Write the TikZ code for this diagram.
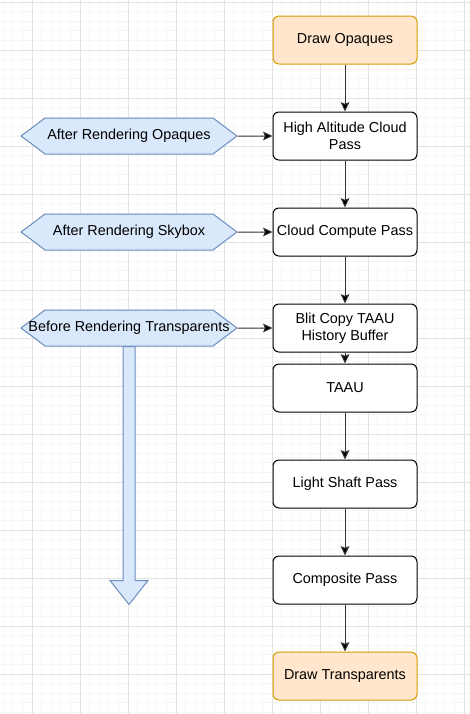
\documentclass[tikz,border=0pt]{standalone}
\usepackage{fontspec}
\setmainfont{Liberation Sans}
\usepackage{tikz}
\usetikzlibrary{arrows.meta,shapes.symbols}

\definecolor{gridmajor}{HTML}{E2E2E2}
\definecolor{gridminor}{HTML}{F5F5F5}
\definecolor{hookfill}{HTML}{DAE8FC}
\definecolor{hookline}{HTML}{6C8EBF}
\definecolor{drawfill}{HTML}{FFE6CC}
\definecolor{drawline}{HTML}{D79B00}
\definecolor{edgeline}{HTML}{333333}

\begin{document}
\begin{tikzpicture}[x=0.75pt,y=-0.75pt,>={Stealth[length=7pt,width=6.5pt,inset=1.2pt]},
  node distance=72pt,font=\fontsize{10.8}{13}\selectfont,
  pass node/.style={rectangle,rounded corners=4.5pt,draw=black,fill=white,line width=0.75pt,
    minimum width=108pt,minimum height=36pt,align=center,inner sep=1pt},
  draw node/.style={pass node,draw=drawline,fill=drawfill},
  hook node/.style={signal,signal to=east and west,signal pointer angle=73.7,draw=hookline,
    fill=hookfill,line width=0.75pt,minimum width=162pt,minimum height=27pt,inner sep=1pt},
  flow/.style={->,draw=edgeline,line width=0.75pt}]
  % background grid
  \useasboundingbox (0,0) rectangle (470,714);
  \fill[white] (0,0) rectangle (470,714);
  \foreach \i in {0,...,48}
    \draw[gridminor,line width=0.6pt] (3.2+9.6*\i,0) -- ++(0,714);
  \foreach \i in {0,...,74}
    \draw[gridminor,line width=0.6pt] (0,2+9.6*\i) -- ++(470,0);
  \foreach \i in {0,...,9}
    \draw[gridmajor,line width=0.6pt] (32+48*\i,0) -- ++(0,714);
  \foreach \i in {0,...,14}
    \draw[gridmajor,line width=0.6pt] (0,2+48*\i) -- ++(470,0);

  \node[draw node] (opaq) at (345,40) {Draw Opaques};
  \node[pass node] (high) [below of=opaq] {High Altitude Cloud\\Pass};
  \node[pass node] (comp) [below of=high] {Cloud Compute Pass};
  \node[pass node] (blit) [below of=comp] {Blit Copy TAAU\\History Buffer};
  \node[pass node] (taau) [below of=blit,node distance=45pt] {TAAU};
  \node[pass node] (shaf) [below of=taau] {Light Shaft Pass};
  \node[pass node] (cmps) [below of=shaf] {Composite Pass};
  \node[draw node] (tran) [below of=cmps] {Draw Transparents};

  \node[hook node] (ao) [left of=high,node distance=162pt] {After Rendering Opaques};
  \node[hook node] (as) [left of=comp,node distance=162pt] {After Rendering Skybox};
  \node[hook node] (bt) [left of=blit,node distance=162pt] {\makebox[120pt]{Before Rendering Transparents}};

  % big arrow down from the last hook
  \draw[hookline,fill=hookfill,line width=0.75pt] ([xshift=-4.5pt]bt.south) -- ++(0,234)
    -- ++(-13,0) -- ++(19,24) -- ++(19,-24) -- ++(-13,0) -- ++(0,-234) -- cycle;

  \path[flow]
    (opaq) edge (high)
    (high) edge (comp)
    (comp) edge (blit)
    (blit) edge (taau)
    (taau) edge (shaf)
    (shaf) edge (cmps)
    (cmps) edge (tran)
    (ao) edge (high)
    (as) edge (comp)
    (bt) edge (blit);
\end{tikzpicture}
\end{document}
